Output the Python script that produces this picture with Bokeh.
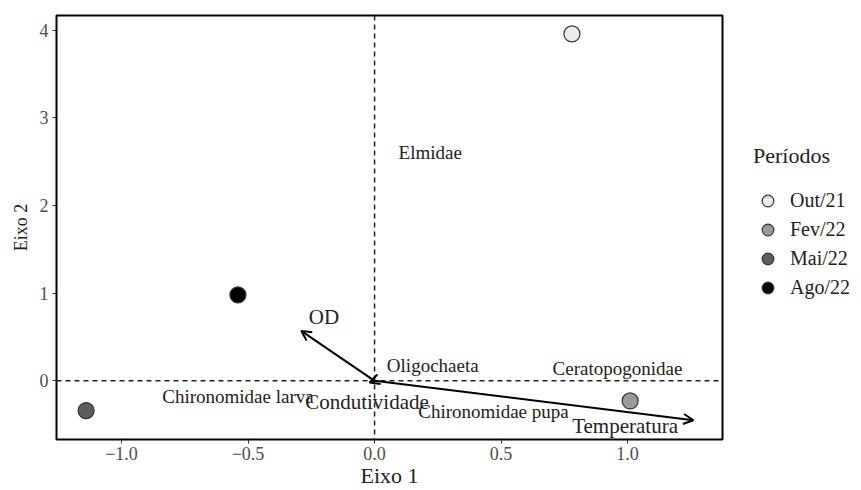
from bokeh.plotting import figure
from bokeh.layouts import row
from bokeh.models import (Span, Arrow, OpenHead, Legend, LegendItem, ColumnDataSource,
                          FixedTicker, Range1d)
from bokeh.core.properties import value
from bokeh.embed import file_html
from bokeh.resources import INLINE

# Sample scores (periods)
periods = ["Out/21", "Fev/22", "Mai/22", "Ago/22"]
period_x = [0.78, 1.01, -1.14, -0.54]
period_y = [3.96, -0.23, -0.34, 0.98]
period_colors = ["#ebebeb", "#9a9a9a", "#5e5e5e", "#000000"]

# Species scores (text)
species = ["Elmidae", "Oligochaeta", "Ceratopogonidae", "Chironomidae larva", "Chironomidae pupa"]
species_x = [0.22, 0.23, 0.96, -0.54, 0.47]
species_y = [2.61, 0.17, 0.14, -0.18, -0.35]

# Environmental vectors
env = ["OD", "Condutividade", "Temperatura"]
env_x = [-0.29, -0.02, 1.26]
env_y = [0.57, -0.02, -0.45]
env_label_x = [-0.20, -0.03, 0.99]
env_label_y = [0.73, -0.24, -0.52]

x_ticks = [-1.0, -0.5, 0.0, 0.5, 1.0]
y_ticks = [0, 1, 2, 3, 4]

FONT = "Liberation Serif"

p = figure(width=724, height=490, output_backend="svg", toolbar_location=None,
           x_range=Range1d(-1.257, 1.375), y_range=Range1d(-0.67, 4.17),
           min_border_left=56, min_border_top=15, min_border_bottom=49, min_border_right=2)
p.xgrid.visible = False
p.ygrid.visible = False
p.outline_line_color = "black"
p.outline_line_width = 2
p.outline_line_alpha = 1

for ax in (p.xaxis[0], p.yaxis[0]):
    ax.axis_line_color = None
    ax.major_tick_line_color = "#333333"
    ax.major_tick_out = 4
    ax.major_tick_in = 0
    ax.minor_tick_line_color = None
    ax.major_label_text_font = FONT
    ax.major_label_text_font_size = "18px"
    ax.major_label_text_color = "#4d4d4d"
    ax.axis_label_text_font = FONT
    ax.axis_label_text_font_style = "normal"
    ax.axis_label_text_color = "#222222"

p.xaxis.axis_label_text_font_size = "22px"
p.yaxis.axis_label_text_font_size = "18px"
p.xaxis.ticker = FixedTicker(ticks=x_ticks)
p.yaxis.ticker = FixedTicker(ticks=y_ticks)
p.xaxis.major_label_overrides = {t: ("\u2212" if t < 0 else "") + f"{abs(t):.1f}" for t in x_ticks}
p.yaxis.major_label_overrides = {t: str(t) for t in y_ticks}
p.xaxis.axis_label = "Eixo 1"
p.yaxis.axis_label = "Eixo 2"
p.xaxis.axis_label_standoff = 0
p.yaxis.axis_label_standoff = 6
p.xaxis.major_label_standoff = 3
p.yaxis.major_label_standoff = 4

p.add_layout(Span(location=0, dimension="width", line_color="#222222", line_dash="5 4", line_width=1.5))
p.add_layout(Span(location=0, dimension="height", line_color="#222222", line_dash="5 4", line_width=1.5))

for ex, ey in zip(env_x, env_y):
    p.add_layout(Arrow(x_start=0, y_start=0, x_end=ex, y_end=ey, line_width=2, line_color="black",
                       end=OpenHead(size=10, line_width=2, line_color="black")))

src_sp = ColumnDataSource(dict(x=species_x, y=species_y, t=species))
p.text("x", "y", text="t", source=src_sp, text_font=value(FONT), text_font_size="19px",
       text_align="center", text_baseline="middle", text_color="#222222")

src_env = ColumnDataSource(dict(x=env_label_x, y=env_label_y, t=env))
p.text("x", "y", text="t", source=src_env, text_font=value(FONT), text_font_size="21px",
       text_align="center", text_baseline="middle", text_color="#222222")

for x, y, c in zip(period_x, period_y, period_colors):
    p.scatter([x], [y], size=16, fill_color=c, line_color="#333333", line_width=1.2)

# Legend panel (separate figure to the right of the plot)
lg = figure(width=137, height=490, output_backend="svg", toolbar_location=None,
            x_range=Range1d(0, 1), y_range=Range1d(0, 1), x_axis_type=None, y_axis_type=None,
            min_border=0)
lg.outline_line_color = None
lg.xgrid.visible = False
lg.ygrid.visible = False
nan = float("nan")
items = []
for name, c in zip(periods, period_colors):
    r = lg.scatter([nan], [nan], size=16, fill_color=c, line_color="#333333", line_width=1.2)
    items.append(LegendItem(label=name, renderers=[r]))

legend = Legend(items=items, title="Períodos", location=(29, 137),
                title_text_font=FONT, title_text_font_size="22px", title_text_font_style="normal",
                title_text_color="#222222",
                label_text_font=FONT, label_text_font_size="20px", label_text_color="#222222",
                border_line_color=None, background_fill_alpha=0,
                glyph_width=29, glyph_height=29, spacing=0, label_standoff=8,
                margin=0, padding=0, title_standoff=17)
lg.add_layout(legend, "center")

layout = row(p, lg, spacing=0)
open("out.html", "w").write(file_html(layout, INLINE))
